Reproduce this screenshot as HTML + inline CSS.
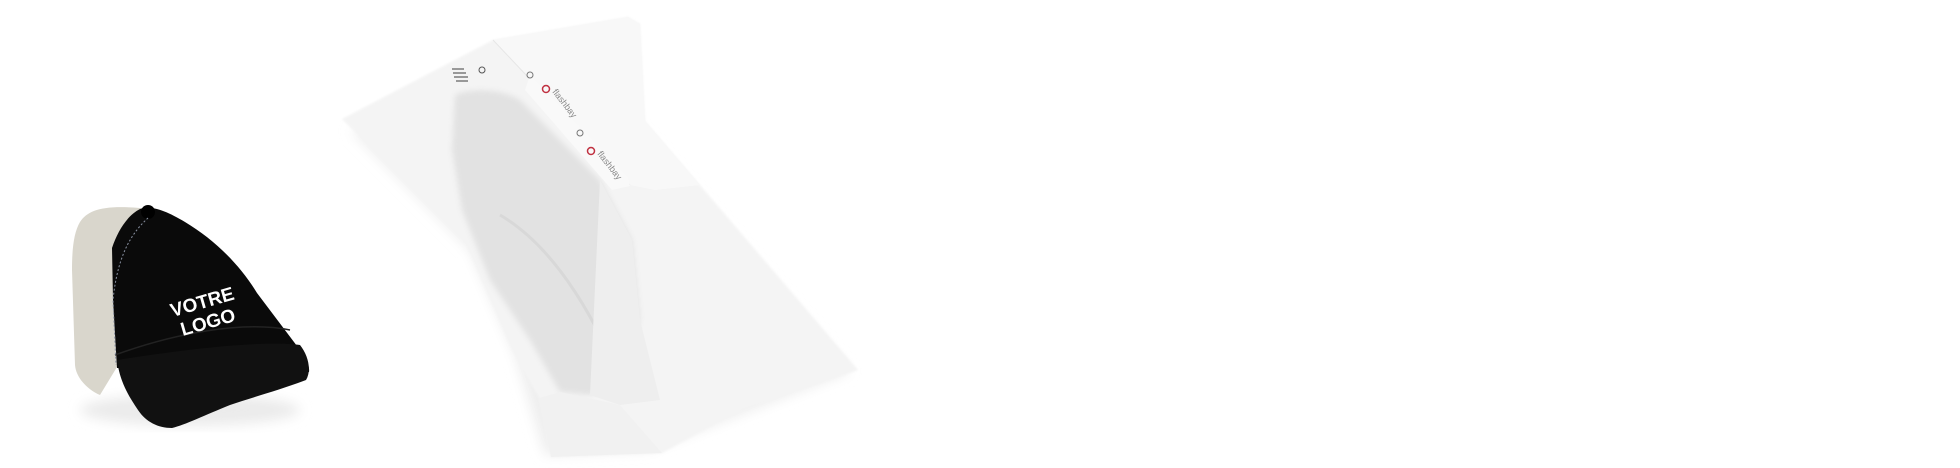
<!DOCTYPE html>
<html><head><meta charset="utf-8"><style>
html,body{margin:0;padding:0;background:#fff;}
svg{display:block}
</style></head><body>
<svg width="1960" height="468" viewBox="0 0 1960 468" xmlns="http://www.w3.org/2000/svg">
<defs>
<filter id="b" x="-20%" y="-20%" width="140%" height="140%"><feGaussianBlur stdDeviation="6"/></filter>
<filter id="b2"><feGaussianBlur stdDeviation="3"/></filter>
<filter id="b1"><feGaussianBlur stdDeviation="1"/></filter>
</defs>
<rect width="1960" height="468" fill="#fff"/>
<!-- cap shadow -->
<ellipse cx="190" cy="410" rx="110" ry="16" fill="#ebebeb" filter="url(#b)"/>
<!-- beige back -->
<path d="M80,222 C88,210 103,205 140,208 L150,215 L115,250 L117,367 L100,395 C88,390 76,378 75,365 L72,270 C72,248 74,232 80,222 Z" fill="#d9d6cc"/>
<!-- black crown -->
<path d="M140,209 C150,205 165,210 185,222 C215,240 240,265 257,293 L300,350 C305,357 310,365 309,372 L117,368 L113,300 L112,248 C118,230 128,215 140,209 Z" fill="#0a0a0a"/>
<!-- brim -->
<path d="M117,360 C180,350 260,340 300,345 C308,355 312,370 306,380 C280,390 250,398 230,405 C205,415 185,425 172,428 C158,428 146,422 138,410 C128,395 120,382 117,360 Z" fill="#111"/>
<path d="M115,355 C170,335 240,320 290,330" stroke="#222" stroke-width="1.5" fill="none"/>
<circle cx="148" cy="212" r="7" fill="#000"/>
<path d="M148,218 C135,230 118,250 113,300 L116,365" stroke="#8890a0" stroke-width="1" stroke-dasharray="2,2" fill="none"/>
<text transform="translate(205,312) rotate(-16)" font-family="Liberation Sans, sans-serif" font-weight="bold" font-size="19" fill="#fff" text-anchor="middle"><tspan x="0" y="-4">VOTRE</tspan><tspan x="0" y="17">LOGO</tspan></text>
<!-- bag shadow -->
<path d="M350,130 L470,250 L515,355 L545,455 L650,450 L850,372 L640,130 Z" fill="#eeeeee" filter="url(#b)"/>
<!-- bag -->
<path d="M342,119 L493,40 L628,17 L640,24 L645,121 L858,370 L828,381 L745,408 L662,453 L551,457 L539,398 L510,346 L465,242 L372,149 Z" fill="#f4f4f4" filter="url(#b1)"/>
<!-- inner cap (gray) -->
<path d="M455,95 C470,88 500,88 520,100 L600,180 L632,240 L640,320 L620,380 L590,395 L560,392 L530,340 L490,280 L462,210 L452,150 Z" fill="#e2e2e2" filter="url(#b2)"/>
<path d="M500,215 C560,250 600,330 620,380" stroke="#d8d8d8" stroke-width="3" fill="none"/>
<path d="M600,180 L632,240 L640,320 L660,400 L620,405 L590,395 Z" fill="#eeeeee"/>
<!-- label band -->
<path d="M493,40 L628,17 L640,24 L645,121 L700,185 L655,190 L630,185 L493,40 Z" fill="#f8f8f8"/>
<path d="M493,40 L630,185" stroke="#e6e6e6" stroke-width="1"/>
<path d="M530,75 L628,177 L630,186 L612,190 L525,90 Z" fill="#f9f9f9"/>
<g fill="#999">
<rect x="452" y="68" width="12" height="2"/><rect x="453" y="72" width="13" height="2"/><rect x="454" y="76" width="14" height="2"/><rect x="456" y="80" width="12" height="2"/>
<circle cx="482" cy="70" r="3" fill="none" stroke="#555"/>
<circle cx="530" cy="75" r="3" fill="none" stroke="#777"/>
<circle cx="580" cy="133" r="3" fill="none" stroke="#777"/>
</g>
<circle cx="546" cy="89" r="3.5" fill="none" stroke="#c03040" stroke-width="1.5"/>
<text transform="translate(552,92) rotate(52)" font-family="Liberation Sans, sans-serif" font-size="9" fill="#888">flashbay</text>
<circle cx="591" cy="151" r="3.5" fill="none" stroke="#c03040" stroke-width="1.5"/>
<text transform="translate(597,154) rotate(52)" font-family="Liberation Sans, sans-serif" font-size="9" fill="#888">flashbay</text>
<!-- bottom fold -->
<path d="M551,457 L539,398 L560,392 L620,405 L662,453 Z" fill="#f1f1f1"/>
</svg>
</body></html>
